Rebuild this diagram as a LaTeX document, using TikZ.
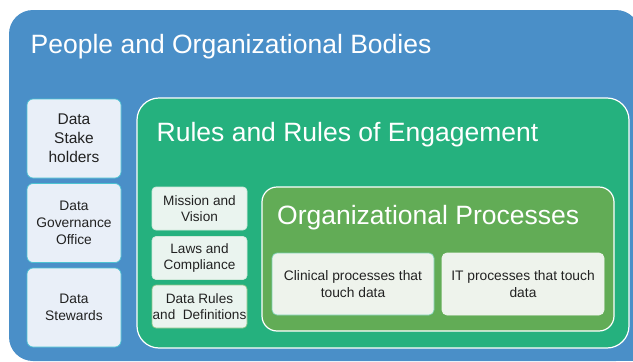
\documentclass[tikz,border=0pt]{standalone}
\usepackage{fontspec}
\setmainfont{Liberation Sans}
\definecolor{outerblue}{HTML}{4A8FC8}
\definecolor{rulegreen}{HTML}{25B17E}
\definecolor{procgreen}{HTML}{62AC56}
\definecolor{peoplefill}{HTML}{E9EFF8}
\definecolor{peopleline}{HTML}{4CC3D2}
\definecolor{rulefill}{HTML}{EAF4EF}
\definecolor{ruleline}{HTML}{CFE9DA}
\definecolor{procfill}{HTML}{EEF3EC}
\definecolor{textgray}{HTML}{222222}
\tikzset{
  container/.style={draw=white, line width=1.2pt, inner sep=0pt, outer sep=0pt},
  titletext/.style={anchor=base west, text=white, inner sep=0pt, font=\fontsize{26.5}{30}\selectfont},
  peoplebox/.style={draw=peopleline, fill=peoplefill, line width=0.7pt, rounded corners=6pt,
     inner sep=0pt, outer sep=0pt, align=center, text=textgray, font=\fontsize{13.8}{16.7}\selectfont},
  rulebox/.style={draw=ruleline, fill=rulefill, line width=0.7pt, rounded corners=4pt,
     inner sep=0pt, outer sep=0pt, align=center, text=textgray, font=\fontsize{13.6}{16.7}\selectfont},
  procbox/.style={draw=procfill, fill=procfill, line width=0.7pt, rounded corners=5pt,
     inner sep=0pt, outer sep=0pt, align=center, text=textgray, font=\fontsize{13.8}{16.7}\selectfont},
}
\begin{document}
\begin{tikzpicture}[x=1pt, y=-1pt]
\useasboundingbox (0,0) rectangle (633,362);
% outer container
\fill[outerblue] (600,320) rectangle (640,361);
\node[fill=outerblue, rounded corners=24pt, inner sep=0pt, outer sep=0pt,
      minimum width=631pt, minimum height=351pt] (people) at (324.5,185.5) {};
\node[titletext] (peopletitle) at (30.5,53.3) {People and Organizational Bodies};
% left boxes
\node[peoplebox, minimum width=94pt, minimum height=79pt, font=\fontsize{15.5}{18.8}\selectfont]
  (stake) at (74,138.5) {Data\\Stake\\holders};
\node[peoplebox, minimum width=94pt, minimum height=79pt] (dgo) at (74,223) {Data\\Governance\\Office};
\node[peoplebox, minimum width=94pt, minimum height=79pt] (stew) at (74,307.5) {Data\\Stewards};
% rules container
\node[container, fill=rulegreen, rounded corners=22pt, minimum width=492pt, minimum height=250pt]
  (rules) at (383,223) {};
\node[titletext] (rulestitle) at (156.5,141.7) {Rules and Rules of Engagement};
\node[rulebox, minimum width=95pt, minimum height=43pt] (mission) at (199.5,208.5) {Mission and\\Vision};
\node[rulebox, minimum width=95pt, minimum height=43pt] (laws) at (199.5,258) {Laws and\\Compliance};
\node[rulebox, draw=procgreen!70, minimum width=95pt, minimum height=43pt] (datarules) at (199.5,306.5) {Data Rules\\and\ \ Definitions};
% processes container
\node[container, fill=procgreen, rounded corners=15pt, minimum width=352pt, minimum height=144pt]
  (proc) at (438,259) {};
\node[titletext] (proctitle) at (277,224.3) {Organizational Processes};
\node[procbox, draw=rulegreen!60, minimum width=162pt, minimum height=62pt] (clinical) at (353,284) {Clinical processes that\\touch data};
\node[procbox, minimum width=162pt, minimum height=62pt] (itproc) at (523,284) {IT processes that touch\\data};
\end{tikzpicture}
\end{document}
